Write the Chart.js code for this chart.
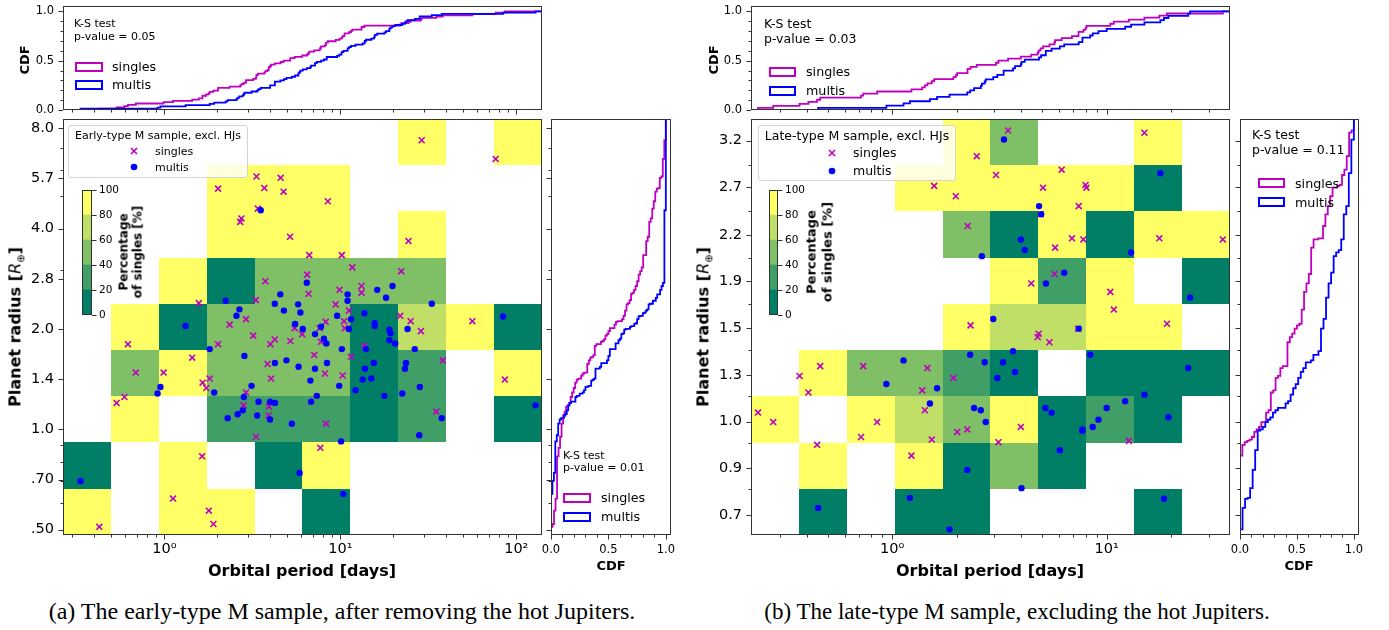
<!DOCTYPE html>
<html>
<head>
<meta charset="utf-8">
<title>Singles vs multis: period-radius maps</title>
<script src="https://cdn.jsdelivr.net/npm/chart.js@4.4.1/dist/chart.umd.min.js"></script>
<style>
  body { margin: 0; background: #fff; }
  #fig { position: relative; width: 1389px; height: 630px; overflow: hidden; font-family: 'DejaVu Sans', sans-serif; color: #000; }
  #fig canvas { position: absolute; }
  .txt { position: absolute; white-space: nowrap; line-height: 1; }
  .leg { position: absolute; box-sizing: border-box; background: rgba(255,255,255,0.8); border: 1px solid #d4d4d4; border-radius: 3px; }
  .patch { position: absolute; box-sizing: border-box; border: 2px solid; }
</style>
</head>
<body>
<div id="fig"></div>
<script>
// ---------- (a) early-type M sample ----------
const earlySinglesP = [29.0, 76.3, 2.02, 3.34, 4.58, 3.70, 4.76, 8.49, 3.40, 2.74, 2.70, 5.18, 24.4, 6.66, 10.2, 11.7, 22.2, 6.48, 3.75, 13.2,
  13.2, 9.9, 6.60, 3.31, 1.57, 9.41, 11.2, 21.9, 2.91, 2.35, 25.1, 56.3, 8.26, 10.5, 10.6, 5.50, 6.07, 28.7, 7.63, 0.621,
  2.02, 3.20, 4.24, 4.00, 5.20, 7.77, 13.7, 1.44, 7.11, 11.5, 38.2, 3.86, 0.688, 0.99, 8.18, 4.04, 10.3, 86.1, 1.81, 1.65,
  1.73, 2.91, 0.535, 0.593, 2.82, 3.93, 3.91, 35.1, 8.29, 3.32, 7.70, 1.64, 1.12, 1.79, 1.90, 0.427];
const earlySinglesR = [7.36, 6.47, 5.27, 5.73, 5.68, 5.29, 5.16, 4.83, 4.59, 4.29, 4.19, 3.78, 3.67, 3.33, 3.33, 3.06, 2.98, 2.91, 2.78, 2.69,
  2.57, 2.62, 2.55, 2.44, 2.39, 2.37, 2.27, 2.19, 2.14, 2.06, 2.11, 2.11, 2.10, 2.11, 2.01, 2.01, 1.93, 1.97, 2.01, 1.80,
  1.80, 1.91, 1.86, 1.80, 1.84, 1.83, 1.78, 1.64, 1.67, 1.65, 1.61, 1.57, 1.48, 1.48, 1.47, 1.42, 1.45, 1.41, 1.42, 1.38,
  1.33, 1.29, 1.20, 1.25, 1.18, 1.17, 1.10, 1.13, 1.04, 0.95, 0.88, 0.83, 0.62, 0.57, 0.52, 0.51];
const earlyMultisP = [3.53, 6.45, 19.8, 16.2, 18.2, 4.56, 11.0, 11.0, 2.23, 4.24, 5.76, 33.1, 2.67, 4.78, 5.93, 13.7, 2.57, 9.59, 11.5, 84.1,
  5.53, 15.7, 15.7, 1.32, 6.12, 11.2, 7.77, 24.1, 19.0, 19.3, 7.18, 8.07, 8.33, 19.0, 20.5, 1.81, 10.2, 14.0, 26.5, 2.85,
  4.94, 4.25, 8.40, 15.5, 23.6, 5.79, 7.18, 13.8, 23.3, 6.76, 13.4, 15.0, 0.95, 0.915, 3.13, 9.86, 28.3, 1.92, 12.2, 22.5,
  2.83, 7.35, 17.8, 3.43, 6.82, 3.99, 4.25, 2.79, 2.61, 3.37, 2.29, 3.99, 37.7, 5.30, 28.1, 10.1, 5.87, 0.334, 10.4, 128.7];
const earlyMultisR = [4.54, 2.75, 2.69, 2.62, 2.48, 2.54, 2.54, 2.43, 2.43, 2.38, 2.37, 2.38, 2.29, 2.27, 2.24, 2.23, 2.19, 2.19, 2.14, 2.18,
  2.07, 2.08, 2.04, 2.04, 2.00, 2.00, 2.03, 2.00, 1.99, 1.94, 1.93, 1.87, 1.81, 1.85, 1.81, 1.74, 1.74, 1.74, 1.74, 1.66,
  1.61, 1.58, 1.58, 1.58, 1.58, 1.54, 1.52, 1.52, 1.52, 1.40, 1.41, 1.42, 1.34, 1.28, 1.35, 1.35, 1.34, 1.29, 1.31, 1.28,
  1.25, 1.26, 1.26, 1.21, 1.21, 1.21, 1.20, 1.14, 1.11, 1.10, 1.08, 1.07, 1.08, 1.04, 0.96, 0.92, 0.74, 0.70, 0.64, 1.18];
const earlyPeriodEdges = [0.2655, 0.497, 0.930, 1.740, 3.257, 6.095, 11.41, 21.35, 39.96, 74.78, 140.0];
const earlyRadiusEdges = [0.482, 0.663, 0.913, 1.256, 1.728, 2.378, 3.272, 4.502, 6.195, 8.524];
// percentage of singles per cell, rows from the smallest radius bin upwards (null = no planets)
const earlyPctSingles = [
  [100, null, 100, 100, null, 0, null, null, null, null],
  [0, null, 100, null, 0, 100, null, null, null, null],
  [null, 100, null, 33, 33, 33, 0, 33, null, 0],
  [null, 50, 100, 50, 50, 50, 0, 33, null, 100],
  [null, 100, 0, 50, 50, 50, 0, 75, 100, 0],
  [null, null, 100, 0, 50, 50, 50, 50, null, null],
  [null, null, null, 100, 100, 100, null, 100, null, null],
  [null, null, null, 100, 100, 100, null, null, null, null],
  [null, null, null, null, null, null, null, 100, null, 100]
];
const earlyPeriodTicks = [1, 10, 100];
const earlyPeriodLabels = ['10⁰', '10¹', '10²'];
const earlyRadiusTicks = [0.5, 0.707, 1.0, 1.414, 2.0, 2.828, 4.0, 5.657, 8.0];
const earlyRadiusLabels = ['.50', '.70', '1.0', '1.4', '2.0', '2.8', '4.0', '5.7', '8.0'];
const earlyPValues = ['0.05', '0.01'];

// ---------- (b) late-type M sample ----------
const lateSinglesP = [3.47, 15.0, 2.48, 3.05, 6.17, 1.57, 5.05, 7.97, 8.05, 1.98, 7.41, 2.25, 4.92, 6.89, 7.79, 5.75, 17.6, 34.8, 4.45, 5.71,
  10.4, 10.8, 19.1, 2.32, 4.82, 4.77, 5.41, 7.36, 0.370, 0.462, 0.407, 0.733, 1.46, 1.93, 1.38, 0.237, 0.279, 1.42, 0.851, 0.716,
  2.01, 2.24, 1.53, 3.98, 3.13, 12.7, 0.447, 1.23];
const lateSinglesR = [3.33, 3.30, 3.00, 2.78, 2.84, 2.66, 2.64, 2.67, 2.64, 2.55, 2.45, 2.26, 2.37, 2.15, 2.14, 2.07, 2.15, 2.14, 1.79, 1.86,
  1.73, 1.61, 1.52, 1.51, 1.46, 1.44, 1.41, 1.49, 1.23, 1.28, 1.15, 1.28, 1.27, 1.22, 1.16, 1.06, 1.02, 1.07, 1.02, 0.96,
  0.98, 0.99, 0.95, 1.00, 0.94, 0.945, 0.93, 0.89];
const lateMultisP = [3.32, 17.8, 4.84, 4.95, 3.98, 4.15, 2.62, 13.0, 6.34, 5.21, 24.5, 2.96, 7.41, 3.66, 2.31, 1.13, 2.70, 3.29, 8.38, 3.74,
  3.09, 24.0, 0.94, 1.62, 1.50, 2.41, 2.59, 2.73, 5.19, 5.54, 15.0, 12.2, 10.0, 9.16, 7.71, 7.71, 8.61, 19.4, 6.05, 2.24,
  4.01, 1.21, 0.452, 1.85, 18.5];
const lateMultisR = [3.21, 2.80, 2.45, 2.37, 2.14, 2.05, 2.00, 2.03, 1.87, 1.79, 1.69, 1.55, 1.49, 1.36, 1.34, 1.31, 1.30, 1.30, 1.34, 1.25,
  1.22, 1.27, 1.19, 1.17, 1.10, 1.08, 1.07, 1.02, 1.08, 1.06, 1.14, 1.11, 1.08, 1.03, 0.99, 0.985, 1.00, 1.04, 0.91, 0.84,
  0.78, 0.75, 0.72, 0.66, 0.747];
const latePeriodEdges = [0.2198, 0.3675, 0.6146, 1.028, 1.719, 2.874, 4.806, 8.037, 13.44, 22.47, 37.58];
const lateRadiusEdges = [0.645, 0.778, 0.9386, 1.1322, 1.3658, 1.6476, 1.9875, 2.3975, 2.892, 3.489];
const latePctSingles = [
  [null, 0, null, 0, 0, null, null, null, 0, null],
  [null, 100, null, 100, 0, 50, 0, null, null, null],
  [100, null, 100, 75, 50, 100, 0, 33, 0, null],
  [null, 100, 50, 50, 33, 0, null, 0, 0, 0],
  [null, null, null, null, 100, 75, 75, 100, 100, null],
  [null, null, null, null, null, 100, 33, 100, null, 0],
  [null, null, null, null, 50, 0, 100, 0, 100, 100],
  [null, null, null, 100, 100, 100, 100, 100, 0, null],
  [null, null, null, null, 100, 50, null, null, 100, null]
];
const latePeriodTicks = [1, 10];
const latePeriodLabels = ['10⁰', '10¹'];
const lateRadiusTicks = [0.700, 0.846, 1.022, 1.235, 1.492, 1.808, 2.180, 2.644, 3.196];
const lateRadiusLabels = ['0.7', '0.9', '1.0', '1.3', '1.5', '1.9', '2.2', '2.7', '3.2'];
const latePValues = ['0.03', '0.11'];

// ---------- shared axis bits ----------
const cdfTicks = [0, 0.5, 1.0];
const cdfLabels = ['0.0', '0.5', '1.0'];
const cdfMinor = [0.1, 0.2, 0.3, 0.4, 0.6, 0.7, 0.8, 0.9];
const colorbarTicks = [0, 20, 40, 60, 80, 100];
const levelColors = ['#007f66', '#3f9f66', '#7fbf66', '#bfdf66', '#ffff66'];

const MAG = '#bf00bf', BLUE = '#0000ff', SPINE = '#333333';
Chart.defaults.font.family = "'DejaVu Sans', sans-serif";
Chart.defaults.color = '#000';
const fig = document.getElementById('fig');

function logMinor(lo, hi) {
  const out = [];
  for (let d = Math.floor(Math.log10(lo)); d <= Math.ceil(Math.log10(hi)); d++) {
    for (let k = 2; k <= 9; k++) {
      const v = k * Math.pow(10, d);
      if (v > lo && v < hi) out.push(v);
    }
  }
  return out;
}

const zip = (xs, ys) => xs.map((v, i) => ({ x: v, y: ys[i] }));

function cdfSteps(values, lo, hi) {
  const s = [...values].sort((a, b) => a - b), n = s.length;
  const pts = [[lo, 0]];
  s.forEach((v, i) => { pts.push([v, i / n], [v, (i + 1) / n]); });
  pts.push([hi, 1]);
  return pts;
}

function stepLine(pts, color, vertical) {
  return {
    data: pts.map(([a, b]) => vertical ? { x: b, y: a } : { x: a, y: b }),
    showLine: true, pointRadius: 0, borderColor: color, borderWidth: 1.8,
    borderJoinStyle: 'miter', fill: false
  };
}

function axis(type, position, min, max, ticks, labels, size, pad) {
  return {
    type, position, min, max, bounds: 'data',
    grid: { display: false, drawTicks: false },
    border: { display: false },
    ticks: {
      display: !!labels, autoSkip: false, maxRotation: 0, minRotation: 0,
      padding: pad, color: '#000', font: { size },
      callback: (v, i) => labels ? labels[i] : ''
    },
    afterBuildTicks: s => { s.ticks = ticks.map(v => ({ value: v })); }
  };
}

// spines + outward tick marks, drawn through the chart's own scales
function marks(spec) {
  return {
    id: 'marks',
    afterDatasetsDraw(chart) {
      const { ctx, chartArea: a } = chart;
      ctx.save();
      ctx.strokeStyle = SPINE;
      ctx.lineWidth = 1;
      ctx.strokeRect(a.left + 0.5, a.top + 0.5, a.right - a.left - 1, a.bottom - a.top - 1);
      ctx.beginPath();
      for (const side in spec) {
        const s = spec[side], sc = chart.scales[s.scale];
        const tick = (v, len) => {
          const p = Math.round(sc.getPixelForValue(v)) + 0.5;
          if (side === 'left') { ctx.moveTo(a.left, p); ctx.lineTo(a.left - len, p); }
          if (side === 'right') { ctx.moveTo(a.right, p); ctx.lineTo(a.right + len, p); }
          if (side === 'bottom') { ctx.moveTo(p, a.bottom); ctx.lineTo(p, a.bottom + len); }
        };
        s.major.forEach(v => tick(v, 4.5));
        (s.minor || []).forEach(v => tick(v, 2.5));
      }
      ctx.stroke();
      ctx.restore();
    }
  };
}

function heatmap(cells, xEdges, yEdges) {
  return {
    id: 'heatmap',
    beforeDatasetsDraw(chart) {
      const { ctx, scales: { x, y } } = chart;
      ctx.save();
      cells.forEach((row, r) => row.forEach((v, c) => {
        if (v === null) return;
        const x0 = Math.round(x.getPixelForValue(xEdges[c])), x1 = Math.round(x.getPixelForValue(xEdges[c + 1]));
        const y0 = Math.round(y.getPixelForValue(yEdges[r])), y1 = Math.round(y.getPixelForValue(yEdges[r + 1]));
        ctx.fillStyle = levelColors[Math.min(4, Math.floor(v / 20))];
        ctx.fillRect(x0, y1, x1 - x0, y0 - y1);
      }));
      ctx.restore();
    }
  };
}

// box = canvas [left, top, width, height]; area = wanted plot area [x0, y0, x1, y1]
function makeChart(box, area, cfg, plugins) {
  const cv = document.createElement('canvas');
  cv.width = box[2];
  cv.height = box[3];
  cv.style.left = box[0] + 'px';
  cv.style.top = box[1] + 'px';
  fig.appendChild(cv);
  const side = { left: area[0] - box[0], top: area[1] - box[1], right: box[0] + box[2] - area[2], bottom: box[1] + box[3] - area[3] };
  const pad = Object.assign({}, side);
  for (const s of Object.values(cfg.options.scales)) {
    if (s.display === false) continue;
    const p = s.position;
    pad[p] = 0;
    s.afterFit = sc => { if (p === 'left' || p === 'right') sc.width = side[p]; else sc.height = side[p]; };
  }
  Object.assign(cfg.options, { responsive: false, animation: false, events: [], layout: { padding: pad } });
  cfg.options.plugins = { legend: { display: false }, tooltip: { enabled: false } };
  cfg.plugins = plugins;
  return new Chart(cv, cfg);
}

function txt(html, x, y, opt) {
  opt = opt || {};
  const d = document.createElement('div');
  d.className = 'txt';
  d.innerHTML = html;
  d.style.left = x + 'px';
  d.style.top = y + 'px';
  d.style.fontSize = (opt.size || 12) + 'px';
  if (opt.bold) d.style.fontWeight = 'bold';
  if (opt.family) d.style.fontFamily = opt.family;
  if (opt.lh) { d.style.lineHeight = opt.lh + 'px'; d.style.textAlign = 'center'; }
  d.style.transform = (opt.anchor === 'l' ? 'translate(0,-50%)' : 'translate(-50%,-50%)') + (opt.rot ? ' rotate(-90deg)' : '');
  fig.appendChild(d);
  return d;
}

function patch(x, y, w, h, color) {
  const d = document.createElement('div');
  d.className = 'patch';
  Object.assign(d.style, { left: x + 'px', top: y + 'px', width: w + 'px', height: h + 'px', borderColor: color });
  fig.appendChild(d);
}

function legendBox(x, y, w, h) {
  const d = document.createElement('div');
  d.className = 'leg';
  Object.assign(d.style, { left: x + 'px', top: y + 'px', width: w + 'px', height: h + 'px' });
  fig.appendChild(d);
}

const crossSvg = '<svg width="9" height="9" style="display:block"><path d="M1.5 1.5L7.5 7.5M7.5 1.5L1.5 7.5" stroke="' + MAG + '" stroke-width="1.6"/></svg>';
const dotSvg = '<svg width="8" height="8" style="display:block"><circle cx="4" cy="4" r="3.3" fill="' + BLUE + '"/></svg>';

function drawPanel(P) {
  const pLo = P.pEdges[0], pHi = P.pEdges[P.pEdges.length - 1];
  const rLo = P.rEdges[0], rHi = P.rEdges[P.rEdges.length - 1];
  const pMinor = logMinor(pLo, pHi);
  const x0 = P.dx + 63, x1 = P.dx + 542;

  // top: CDF of orbital period
  makeChart([P.dx, -20, 548, 150], [x0, 6, x1, 110], {
    type: 'scatter',
    data: { datasets: [stepLine(cdfSteps(P.multisP, pLo, pHi), BLUE, false), stepLine(cdfSteps(P.singlesP, pLo, pHi), MAG, false)] },
    options: { scales: {
      x: axis('logarithmic', 'bottom', pLo, pHi, P.pTicks, null, 11.5, 0),
      y: axis('linear', 'left', 0, 1.055, cdfTicks, cdfLabels, 11.5, 9)
    } }
  }, [marks({ left: { scale: 'y', major: cdfTicks, minor: cdfMinor }, bottom: { scale: 'x', major: P.pTicks, minor: pMinor } })]);

  // main: occurrence grid + planets
  makeChart([P.dx, 95, 548, 500], [x0, 119, x1, 535], {
    type: 'scatter',
    data: { datasets: [
      { data: zip(P.multisP, P.multisR), pointStyle: 'circle', pointRadius: 3.2, backgroundColor: BLUE, borderColor: BLUE, borderWidth: 0 },
      { data: zip(P.singlesP, P.singlesR), pointStyle: 'crossRot', pointRadius: 4.2, backgroundColor: MAG, borderColor: MAG, borderWidth: 1.6 }
    ] },
    options: { scales: {
      x: axis('logarithmic', 'bottom', pLo, pHi, P.pTicks, P.pLabels, 14.5, 6),
      y: axis('logarithmic', 'left', rLo, rHi, P.rTicks, P.rLabels, 14.5, 9)
    } }
  }, [heatmap(P.pct, P.pEdges, P.rEdges),
      marks({ left: { scale: 'y', major: P.rTicks, minor: P.rMinor }, bottom: { scale: 'x', major: P.pTicks, minor: pMinor } })]);

  // right: CDF of planet radius
  makeChart([P.right[0] - 23, 95, P.right[1] - P.right[0] + 40, 500], [P.right[0], 119, P.right[1], 535], {
    type: 'scatter',
    data: { datasets: [stepLine(cdfSteps(P.multisR, rLo, rHi), BLUE, true), stepLine(cdfSteps(P.singlesR, rLo, rHi), MAG, true)] },
    options: { scales: {
      x: axis('linear', 'bottom', 0, 1.045, cdfTicks, cdfLabels, 11.5, 8),
      y: axis('logarithmic', 'left', rLo, rHi, P.rTicks, null, 11.5, 0)
    } }
  }, [marks({ left: { scale: 'y', major: P.rTicks, minor: P.rMinor }, bottom: { scale: 'x', major: cdfTicks, minor: cdfMinor } })]);

  // colour bar
  const cb = P.cbar;
  makeChart([cb[0] - 20, 170, cb[1] - cb[0] + 62, 165], [cb[0], 190, cb[1], 315], {
    type: 'bar',
    data: { labels: [''], datasets: levelColors.map((c, i) => ({
      data: [colorbarTicks[i + 1] - colorbarTicks[i]], backgroundColor: c, borderWidth: 0, barPercentage: 1, categoryPercentage: 1
    })) },
    options: { scales: {
      x: { display: false, stacked: true },
      y: Object.assign(axis('linear', 'right', 0, 100, colorbarTicks, colorbarTicks.map(String), 10.5, 7), { stacked: true })
    } }
  }, [marks({ right: { scale: 'y', major: colorbarTicks } })]);
}

drawPanel({
  dx: 0, singlesP: earlySinglesP, singlesR: earlySinglesR, multisP: earlyMultisP, multisR: earlyMultisR,
  pEdges: earlyPeriodEdges, rEdges: earlyRadiusEdges, pct: earlyPctSingles,
  pTicks: earlyPeriodTicks, pLabels: earlyPeriodLabels, rTicks: earlyRadiusTicks, rLabels: earlyRadiusLabels,
  rMinor: logMinor(earlyRadiusEdges[0], earlyRadiusEdges[9]), right: [551, 671], cbar: [82, 92]
});
drawPanel({
  dx: 688, singlesP: lateSinglesP, singlesR: lateSinglesR, multisP: lateMultisP, multisR: lateMultisR,
  pEdges: latePeriodEdges, rEdges: lateRadiusEdges, pct: latePctSingles,
  pTicks: latePeriodTicks, pLabels: latePeriodLabels, rTicks: lateRadiusTicks, rLabels: lateRadiusLabels,
  rMinor: lateRadiusEdges.slice(1, -1), right: [1240, 1359], cbar: [769, 778]
});

// ---------- text: panel (a) ----------
const radiusTitle = 'Planet radius [<span style="font-weight:normal;font-style:italic">R</span><sub style="font-size:10px;font-weight:normal">⊕</sub>]';
txt('CDF', 24, 60, { size: 13, bold: true, rot: true });
txt('K-S test', 74, 23, { size: 11, anchor: 'l' });
txt('p-value = ' + earlyPValues[0], 74, 36, { size: 11, anchor: 'l' });
patch(75, 62, 28, 10, MAG); patch(75, 80, 28, 10, BLUE);
txt('singles', 112, 67, { size: 12.7, anchor: 'l' });
txt('multis', 112, 85, { size: 12.7, anchor: 'l' });
legendBox(68, 125, 180, 53);
txt('Early-type M sample, excl. HJs', 158, 135, { size: 11 });
txt(crossSvg, 134, 151); txt(dotSvg, 134, 167);
txt('singles', 155, 151, { size: 11, anchor: 'l' });
txt('multis', 155, 167, { size: 11, anchor: 'l' });
txt('Percentage<br>of singles [%]', 131, 252, { size: 12, bold: true, rot: true, lh: 13.5 });
txt(radiusTitle, 17, 327, { size: 16, bold: true, rot: true });
txt('Orbital period [days]', 302, 571, { size: 16, bold: true });
txt('CDF', 611, 565, { size: 13, bold: true });
txt('K-S test', 563, 455, { size: 11, anchor: 'l' });
txt('p-value = ' + earlyPValues[1], 563, 467, { size: 11, anchor: 'l' });
patch(563, 493, 28, 10, MAG); patch(563, 512, 28, 10, BLUE);
txt('singles', 601, 498, { size: 12.7, anchor: 'l' });
txt('multis', 601, 517, { size: 12.7, anchor: 'l' });
txt('(a) The early-type M sample, after removing the hot Jupiters.', 342, 611, { size: 24, family: "'Liberation Serif', serif" });

// ---------- text: panel (b) ----------
txt('CDF', 713, 60, { size: 13, bold: true, rot: true });
txt('K-S test', 764, 24, { size: 12.5, anchor: 'l' });
txt('p-value = ' + latePValues[0], 764, 39, { size: 12.5, anchor: 'l' });
patch(769, 67, 27, 10, MAG); patch(769, 86, 27, 10, BLUE);
txt('singles', 806, 72, { size: 12.7, anchor: 'l' });
txt('multis', 806, 91, { size: 12.7, anchor: 'l' });
legendBox(758, 125, 198, 56);
txt('Late-type M sample, excl. HJs', 857, 136, { size: 12.5 });
txt(crossSvg, 832, 153); txt(dotSvg, 832, 171);
txt('singles', 853, 153, { size: 12.5, anchor: 'l' });
txt('multis', 853, 171, { size: 12.5, anchor: 'l' });
txt('Percentage<br>of singles [%]', 819, 252, { size: 13, bold: true, rot: true, lh: 15.5 });
txt(radiusTitle, 705, 327, { size: 16, bold: true, rot: true });
txt('Orbital period [days]', 990, 571, { size: 16, bold: true });
txt('CDF', 1299, 565, { size: 13, bold: true });
txt('K-S test', 1252, 135, { size: 12.5, anchor: 'l' });
txt('p-value = ' + latePValues[1], 1252, 150, { size: 12.5, anchor: 'l' });
patch(1258, 178, 27, 10, MAG); patch(1258, 197, 27, 10, BLUE);
txt('singles', 1295, 184, { size: 12.7, anchor: 'l' });
txt('multis', 1295, 203, { size: 12.7, anchor: 'l' });
txt('(b) The late-type M sample, excluding the hot Jupiters.', 1017, 611, { size: 23, family: "'Liberation Serif', serif" });
</script>
</body>
</html>
